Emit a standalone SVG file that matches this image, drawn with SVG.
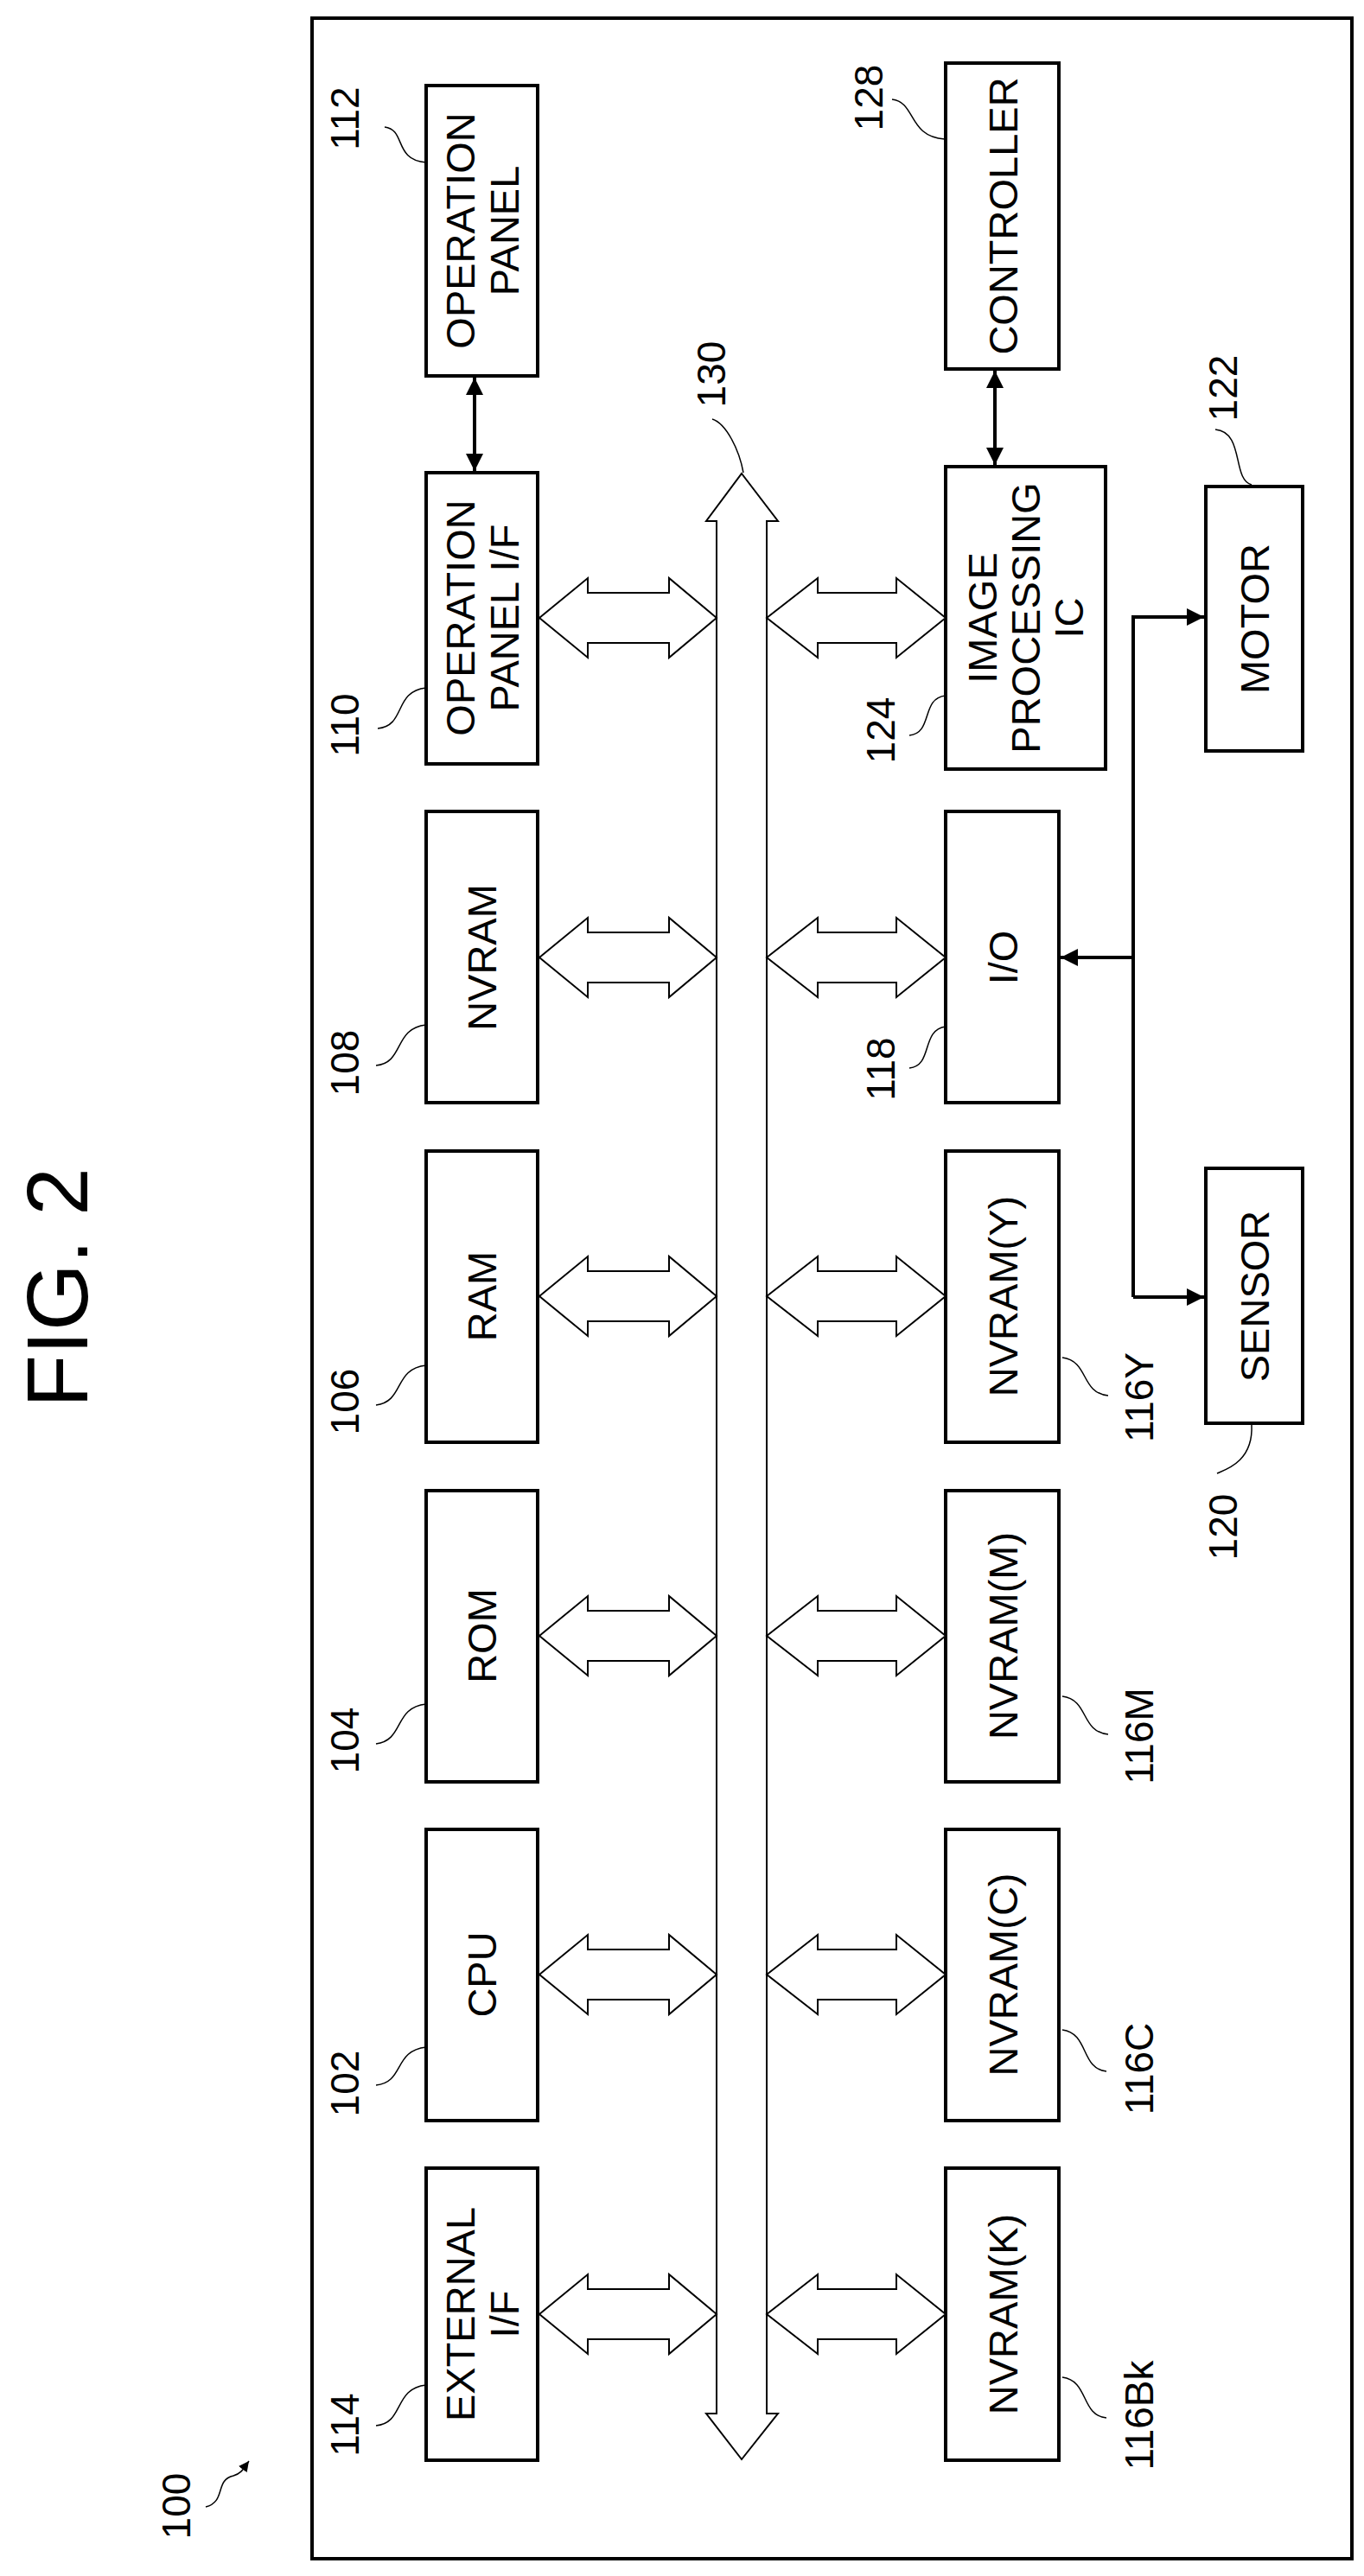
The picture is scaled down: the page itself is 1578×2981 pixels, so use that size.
<svg xmlns="http://www.w3.org/2000/svg" width="1578" height="2981" viewBox="0 0 1578 2981">
<style>
.b{fill:#fff;stroke:#000;stroke-width:4}
.t{font-family:"Liberation Sans",Arial,sans-serif;font-size:47px;text-anchor:middle;fill:#000}
.n{font-family:"Liberation Sans",Arial,sans-serif;font-size:46px;text-anchor:middle;fill:#000}
.ld{fill:none;stroke:#000;stroke-width:1.5}
.ba{fill:#fff;stroke:#000;stroke-width:2}
.ar{fill:none;stroke:#000;stroke-width:4}
</style>
<defs>
<marker id="ah" viewBox="0 0 10 10" refX="10" refY="5" markerWidth="5" markerHeight="5" orient="auto-start-reverse"><path d="M0,0 L10,5 L0,10 z" fill="#000"/></marker>
<marker id="sa" viewBox="0 0 10 10" refX="10" refY="5" markerWidth="12" markerHeight="12" orient="auto" markerUnits="userSpaceOnUse"><path d="M0,0 L10,5 L0,10 z" fill="#000"/></marker>
</defs>
<rect width="1578" height="2981" fill="#fff"/>
<text transform="translate(101,1490) rotate(-90)" font-family="Liberation Sans,Arial,sans-serif" font-size="100" text-anchor="middle">FIG. 2</text>
<rect x="361" y="21" width="1203" height="2940" fill="none" stroke="#000" stroke-width="4"/>
<g id="n100"><text class="n" transform="translate(220,2900) rotate(-90)">100</text><path class="ld" d="M238,2901 C262,2895 248,2870 270,2865 C280,2862 282,2856 288,2848" marker-end="url(#sa)"/></g>

<g id="n112"><rect class="b" x="493" y="99" width="129" height="336"/><text class="t" transform="translate(557,267) rotate(-90)"><tspan x="0" y="-8">OPERATION</tspan><tspan x="0" y="43">PANEL</tspan></text><text class="n" transform="translate(415,137) rotate(-90)">112</text><path class="ld" d="M445,147 C470,150 455,185 493,188"/></g>
<g id="n110"><rect class="b" x="493" y="547" width="129" height="337"/><text class="t" transform="translate(557,715) rotate(-90)"><tspan x="0" y="-8">OPERATION</tspan><tspan x="0" y="43">PANEL I/F</tspan></text><text class="n" transform="translate(415,839) rotate(-90)">110</text><path class="ld" d="M437,843 C470,840 455,800 493,796"/></g>
<g id="n108"><rect class="b" x="493" y="939" width="129" height="337"/><text class="t" transform="translate(557,1108) rotate(-90)" y="17">NVRAM</text><text class="n" transform="translate(415,1230) rotate(-90)">108</text><path class="ld" d="M435,1233 C468,1230 455,1190 493,1186"/></g>
<g id="n106"><rect class="b" x="493" y="1332" width="129" height="337"/><text class="t" transform="translate(557,1500) rotate(-90)" y="17">RAM</text><text class="n" transform="translate(415,1622) rotate(-90)">106</text><path class="ld" d="M435,1626 C468,1622 455,1584 493,1580"/></g>
<g id="n104"><rect class="b" x="493" y="1725" width="129" height="337"/><text class="t" transform="translate(557,1893) rotate(-90)" y="17">ROM</text><text class="n" transform="translate(415,2014) rotate(-90)">104</text><path class="ld" d="M435,2018 C468,2014 455,1976 493,1972"/></g>
<g id="n102"><rect class="b" x="493" y="2117" width="129" height="337"/><text class="t" transform="translate(557,2285) rotate(-90)" y="17">CPU</text><text class="n" transform="translate(415,2411) rotate(-90)">102</text><path class="ld" d="M435,2413 C468,2410 455,2373 493,2369"/></g>
<g id="n114"><rect class="b" x="493" y="2509" width="129" height="338"/><text class="t" transform="translate(557,2678) rotate(-90)"><tspan x="0" y="-8">EXTERNAL</tspan><tspan x="0" y="43">I/F</tspan></text><text class="n" transform="translate(415,2806) rotate(-90)">114</text><path class="ld" d="M435,2807 C468,2804 455,2764 493,2760"/></g>

<g id="n128"><rect class="b" x="1094" y="73" width="131" height="354"/><text class="t" transform="translate(1160,250) rotate(-90)" y="17">CONTROLLER</text><text class="n" transform="translate(1021,113) rotate(-90)">128</text><path class="ld" d="M1032,115 C1060,118 1050,158 1093,161"/></g>
<g id="n124"><rect class="b" x="1094" y="540" width="185" height="350"/><text class="t" transform="translate(1186,715) rotate(-90)"><tspan x="0" y="-33">IMAGE</tspan><tspan x="0" y="17">PROCESSING</tspan><tspan x="0" y="67">IC</tspan></text><text class="n" transform="translate(1035,845) rotate(-90)">124</text><path class="ld" d="M1052,851 C1080,848 1065,808 1094,805"/></g>
<g id="n118"><rect class="b" x="1094" y="939" width="131" height="337"/><text class="t" transform="translate(1160,1108) rotate(-90)" y="17">I/O</text><text class="n" transform="translate(1035,1237) rotate(-90)">118</text><path class="ld" d="M1052,1236 C1080,1233 1065,1192 1094,1188"/></g>
<g id="n116Y"><rect class="b" x="1094" y="1332" width="131" height="337"/><text class="t" transform="translate(1160,1500) rotate(-90)" y="17">NVRAM(Y)</text><text class="n" transform="translate(1334,1617) rotate(-90)">116Y</text><path class="ld" d="M1229,1571 C1260,1575 1250,1612 1282,1615"/></g>
<g id="n116M"><rect class="b" x="1094" y="1725" width="131" height="337"/><text class="t" transform="translate(1160,1893) rotate(-90)" y="17">NVRAM(M)</text><text class="n" transform="translate(1334,2009) rotate(-90)">116M</text><path class="ld" d="M1229,1963 C1260,1967 1250,2004 1282,2007"/></g>
<g id="n116C"><rect class="b" x="1094" y="2117" width="131" height="337"/><text class="t" transform="translate(1160,2285) rotate(-90)" y="17">NVRAM(C)</text><text class="n" transform="translate(1334,2394) rotate(-90)">116C</text><path class="ld" d="M1229,2349 C1260,2353 1250,2394 1280,2397"/></g>
<g id="n116Bk"><rect class="b" x="1094" y="2509" width="131" height="338"/><text class="t" transform="translate(1160,2678) rotate(-90)" y="17">NVRAM(K)</text><text class="n" transform="translate(1334,2795) rotate(-90)">116Bk</text><path class="ld" d="M1229,2751 C1260,2755 1250,2795 1280,2798"/></g>

<g id="n122"><rect class="b" x="1395" y="563" width="112" height="306"/><text class="t" transform="translate(1451,716) rotate(-90)" y="17">MOTOR</text><text class="n" transform="translate(1431,449) rotate(-90)">122</text><path class="ld" d="M1406,497 C1440,500 1425,555 1448,561"/></g>
<g id="n120"><rect class="b" x="1395" y="1352" width="112" height="295"/><text class="t" transform="translate(1451,1500) rotate(-90)" y="17">SENSOR</text><text class="n" transform="translate(1431,1767) rotate(-90)">120</text><path class="ld" d="M1448,1649 C1450,1690 1420,1700 1408,1705"/></g>

<g id="n130"><path class="ba" d="M858,548 L900,603 L887,603 L887,2793 L900,2793 L858,2846 L817,2793 L829,2793 L829,603 L817,603 Z"/><text class="n" transform="translate(839,433) rotate(-90)">130</text><path class="ld" d="M824,485 C840,490 855,520 860,547"/></g>

<g id="connectors">
<path class="ba" d="M624,715 L680,669 L680,686 L774,686 L774,669 L829,715 L774,761 L774,744 L680,744 L680,761 Z"/>
<path class="ba" d="M887,715 L946,669 L946,686 L1037,686 L1037,669 L1094,715 L1037,761 L1037,744 L946,744 L946,761 Z"/>
<path class="ba" d="M624,1108 L680,1062 L680,1079 L774,1079 L774,1062 L829,1108 L774,1154 L774,1137 L680,1137 L680,1154 Z"/>
<path class="ba" d="M887,1108 L946,1062 L946,1079 L1037,1079 L1037,1062 L1094,1108 L1037,1154 L1037,1137 L946,1137 L946,1154 Z"/>
<path class="ba" d="M624,1500 L680,1454 L680,1471 L774,1471 L774,1454 L829,1500 L774,1546 L774,1529 L680,1529 L680,1546 Z"/>
<path class="ba" d="M887,1500 L946,1454 L946,1471 L1037,1471 L1037,1454 L1094,1500 L1037,1546 L1037,1529 L946,1529 L946,1546 Z"/>
<path class="ba" d="M624,1893 L680,1847 L680,1864 L774,1864 L774,1847 L829,1893 L774,1939 L774,1922 L680,1922 L680,1939 Z"/>
<path class="ba" d="M887,1893 L946,1847 L946,1864 L1037,1864 L1037,1847 L1094,1893 L1037,1939 L1037,1922 L946,1922 L946,1939 Z"/>
<path class="ba" d="M624,2285 L680,2239 L680,2256 L774,2256 L774,2239 L829,2285 L774,2331 L774,2314 L680,2314 L680,2331 Z"/>
<path class="ba" d="M887,2285 L946,2239 L946,2256 L1037,2256 L1037,2239 L1094,2285 L1037,2331 L1037,2314 L946,2314 L946,2331 Z"/>
<path class="ba" d="M624,2678 L680,2632 L680,2649 L774,2649 L774,2632 L829,2678 L774,2724 L774,2707 L680,2707 L680,2724 Z"/>
<path class="ba" d="M887,2678 L946,2632 L946,2649 L1037,2649 L1037,2632 L1094,2678 L1037,2724 L1037,2707 L946,2707 L946,2724 Z"/>
<line class="ar" x1="549" y1="437" x2="549" y2="545" marker-start="url(#ah)" marker-end="url(#ah)"/>
<line class="ar" x1="1151" y1="429" x2="1151" y2="538" marker-start="url(#ah)" marker-end="url(#ah)"/>
<path class="ar" d="M1311,1501 L1311,714 L1393,714" marker-end="url(#ah)"/>
<line class="ar" x1="1311" y1="1501" x2="1393" y2="1501" marker-end="url(#ah)"/>
<line class="ar" x1="1311" y1="1108" x2="1227" y2="1108" marker-end="url(#ah)"/>
</g>
</svg>
